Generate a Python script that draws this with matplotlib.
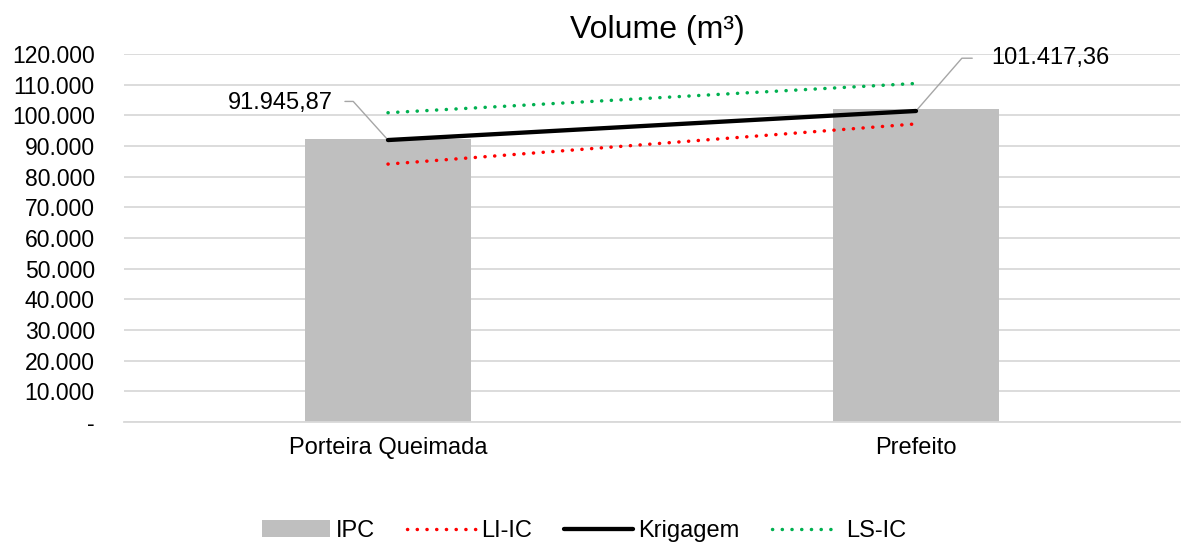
import numpy as np
import matplotlib.pyplot as plt
from matplotlib.ticker import FuncFormatter

plt.rcParams['font.family'] = ['Liberation Sans', 'DejaVu Sans']

# data
categories = ['Porteira Queimada', 'Prefeito']
ipc = [92270, 102050]
li_ic = [84100, 97200]
krigagem = [91945.87, 101417.36]
ls_ic = [100850, 110400]
y_ticks = list(range(0, 120001, 10000))

GRID = '#d9d9d9'


def br_fmt(v, decimals=0):
    s = f"{v:,.{decimals}f}"
    return s.replace(',', '#').replace('.', ',').replace('#', '.')


fig = plt.figure(figsize=(11.81, 5.43), dpi=100)
ax = fig.add_axes([124/1181, 1-422/543, (1180-124)/1181, (422-54)/543])

x = np.arange(len(categories))
dot = (0, (0.05, 2.75))
ax.bar(x, ipc, width=0.314, color='#bfbfbf', label='IPC', zorder=2)
ax.plot(x, li_ic, color='#ff0000', lw=2.5, linestyle=dot,
        dash_capstyle='round', label='LI-IC', zorder=3)
ax.plot(x, krigagem, color='black', lw=3.1, solid_capstyle='round',
        label='Krigagem', zorder=4)
ax.plot(x, ls_ic, color='#00b050', lw=2.5, linestyle=dot,
        dash_capstyle='round', label='LS-IC', zorder=3)

ax.set_xlim(-0.5, 1.5)
ax.set_ylim(0, 120000)
ax.set_yticks(y_ticks)
ax.yaxis.set_major_formatter(FuncFormatter(lambda v, p: '-' if v == 0 else br_fmt(v)))
ax.set_xticks(x)
ax.set_xticklabels(categories)
ax.tick_params(axis='y', length=0, pad=21, labelsize=16.5)
ax.tick_params(axis='x', length=0, pad=11, labelsize=17)
ax.grid(axis='y', color=GRID, lw=1.3, zorder=0)
ax.set_axisbelow(True)
for s in ['top', 'right', 'left']:
    ax.spines[s].set_visible(False)
ax.spines['bottom'].set_color(GRID)
ax.spines['bottom'].set_linewidth(1.3)

# data labels with leader lines
ax.annotate(br_fmt(krigagem[0], 2), xy=(x[0], krigagem[0]), xytext=(-40, 27),
            textcoords='offset points', ha='right', va='center', fontsize=17,
            arrowprops=dict(arrowstyle='-', color='#a6a6a6', lw=1,
                            connectionstyle='angle,angleA=0,angleB=132,rad=0',
                            relpos=(1, 0.55), shrinkA=7, shrinkB=0))
ax.annotate(br_fmt(krigagem[1], 2), xy=(x[1], krigagem[1]), xytext=(54, 38),
            textcoords='offset points', ha='left', va='center', fontsize=17,
            arrowprops=dict(arrowstyle='-', color='#a6a6a6', lw=1,
                            connectionstyle='angle,angleA=0,angleB=49,rad=0',
                            relpos=(0, 0.5), shrinkA=11.5, shrinkB=0))

fig.text(657/1181, 1-30/543, 'Volume (m³)', ha='center', va='center', fontsize=23)

handles, labels = ax.get_legend_handles_labels()
order = [labels.index(n) for n in ['IPC', 'LI-IC', 'Krigagem', 'LS-IC']]
fig.legend([handles[i] for i in order], [labels[i] for i in order],
           loc='center', bbox_to_anchor=(584/1181, 1-531/543), ncol=4,
           frameon=False, fontsize=17, handlelength=2.9, handleheight=0.7,
           handletextpad=0.25, columnspacing=1.35, borderpad=0)

fig.savefig('out.png', dpi=100)
